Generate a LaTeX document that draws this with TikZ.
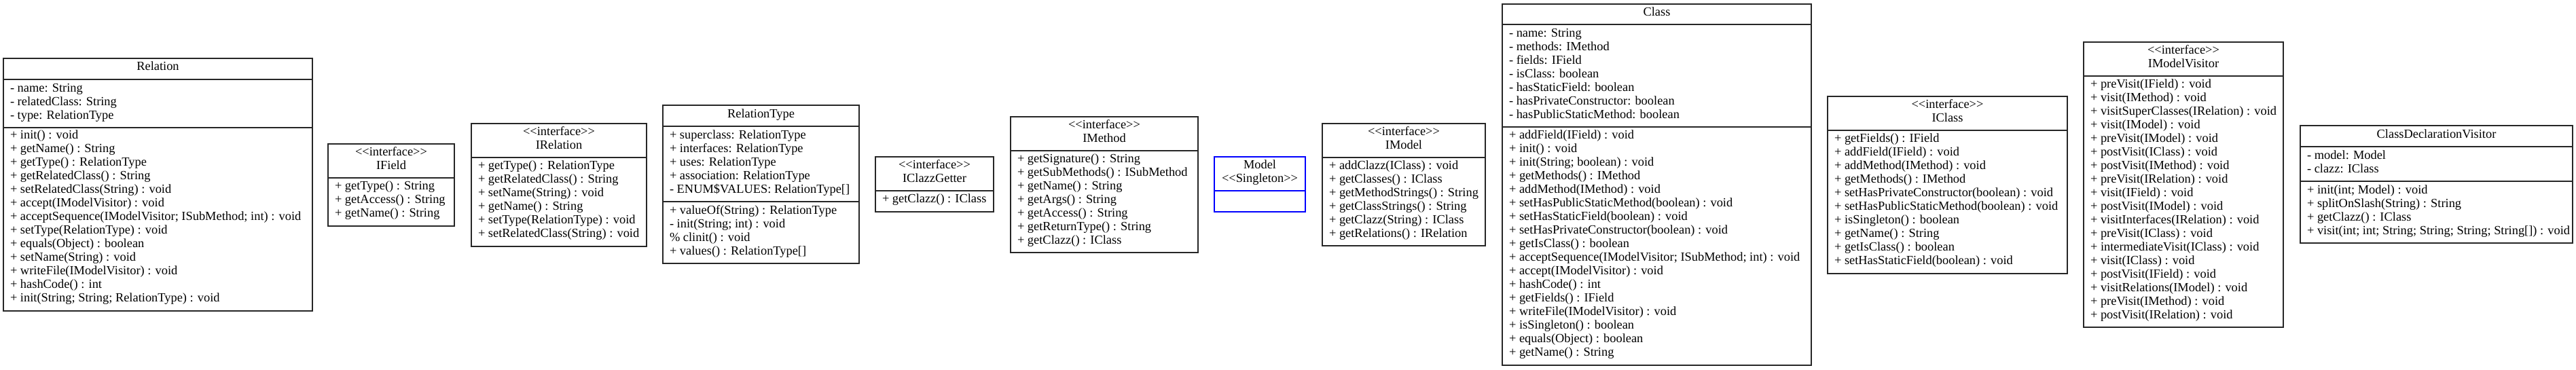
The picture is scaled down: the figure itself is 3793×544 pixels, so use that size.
\documentclass[tikz,border=0pt]{standalone}
\usepackage{fontspec}
\newfontfamily\umlfont{Liberation Serif}
\tikzset{
  uboxst/.style={draw=black!85, line width=1.3pt, inner sep=0pt, outer sep=0pt, anchor=north west},
  usepst/.style={draw=black!85, line width=1.3pt},
  utxt/.style={inner sep=0pt, outer sep=0pt, font=\umlfont\fontsize{18.4}{20}\selectfont, text=black},
}
\newcommand\ubox[6][]{\node[uboxst,#1, minimum width={(#5-#3)*1pt}, minimum height={(#6-#4)*1pt}] (#2) at (#3,#4) {};}
\newcommand\usep[3][]{\draw[usepst,#1] (#2.west |- 0,#3) -- (#2.east |- 0,#3);}
\newcommand\ulines[4]{\foreach \t [count=\i] in {#4} {\node[utxt, anchor=mid west] (#1-\i) at (#2,{#3+20*(\i-1)}) {\t};}}
\newcommand\uhead[4]{\foreach \t [count=\i] in {#4} {\node[utxt, anchor=mid] (#1-\i) at (#2,{#3+20*(\i-1)}) {\t};}}
\begin{document}
\begin{tikzpicture}[x=1pt,y=-1pt]
\useasboundingbox[fill=white] (0,0) rectangle (3793,544);

% Relation
\ubox{rel}{5}{86}{460}{458}
\usep{rel}{117}\usep{rel}{188}
\uhead{relh}{232.5}{101}{Relation}
\ulines{rela}{15}{133}{- name: String, - relatedClass: String, - type: RelationType}
\ulines{relm}{15}{202}{+ init() : void, + getName() : String, + getType() : RelationType, + getRelatedClass() : String, + setRelatedClass(String) : void, + accept(IModelVisitor) : void, + acceptSequence(IModelVisitor; ISubMethod; int) : void, + setType(RelationType) : void, + equals(Object) : boolean, + setName(String) : void, + writeFile(IModelVisitor) : void, + hashCode() : int, + init(String; String; RelationType) : void}

% IField
\ubox{ifield}{483}{212}{669}{333}
\usep{ifield}{262}
\uhead{ifieldh}{576}{227}{<<interface>>, IField}
\ulines{ifieldm}{493}{277}{+ getType() : String, + getAccess() : String, + getName() : String}

% IRelation
\ubox{irel}{694}{182}{952}{363}
\usep{irel}{232}
\uhead{irelh}{823}{197}{<<interface>>, IRelation}
\ulines{irelm}{704}{247}{+ getType() : RelationType, + getRelatedClass() : String, + setName(String) : void, + getName() : String, + setType(RelationType) : void, + setRelatedClass(String) : void}

% RelationType
\ubox{rtype}{976}{155}{1265}{388}
\usep{rtype}{186}\usep{rtype}{297}
\uhead{rtypeh}{1120.5}{171}{RelationType}
\ulines{rtypea}{986}{202}{+ superclass: RelationType, + interfaces: RelationType, + uses: RelationType, + association: RelationType, {- ENUM\$VALUES: RelationType[]}}
\ulines{rtypem}{986}{313}{+ valueOf(String) : RelationType, - init(String; int) : void, \% clinit() : void, {+ values() : RelationType[]}}

% IClazzGetter
\ubox{iclazz}{1289}{231}{1463}{312}
\usep{iclazz}{281}
\uhead{iclazzh}{1376}{246}{<<interface>>, IClazzGetter}
\ulines{iclazzm}{1299}{296}{+ getClazz() : IClass}

% IMethod
\ubox{imethod}{1488}{172}{1764}{372}
\usep{imethod}{222}
\uhead{imethodh}{1626}{187}{<<interface>>, IMethod}
\ulines{imethodm}{1498}{237}{+ getSignature() : String, + getSubMethods() : ISubMethod, + getName() : String, + getArgs() : String, + getAccess() : String, + getReturnType() : String, + getClazz() : IClass}

% Model
\ubox[draw=blue]{model}{1788}{231}{1922}{312}
\usep[draw=blue]{model}{281}
\uhead{modelh}{1855}{246}{Model, <<Singleton>>}

% IModel
\ubox{imodel}{1947}{182}{2187}{362}
\usep{imodel}{232}
\uhead{imodelh}{2067}{197}{<<interface>>, IModel}
\ulines{imodelm}{1957}{247}{+ addClazz(IClass) : void, + getClasses() : IClass, + getMethodStrings() : String, + getClassStrings() : String, + getClazz(String) : IClass, + getRelations() : IRelation}

% Class
\ubox{cls}{2212}{6}{2667}{538}
\usep{cls}{36}\usep{cls}{187}
\uhead{clsh}{2439.5}{21}{Class}
\ulines{clsa}{2222}{52}{- name: String, - methods: IMethod, - fields: IField, - isClass: boolean, - hasStaticField: boolean, - hasPrivateConstructor: boolean, - hasPublicStaticMethod: boolean}
\ulines{clsm}{2222}{202}{+ addField(IField) : void, + init() : void, + init(String; boolean) : void, + getMethods() : IMethod, + addMethod(IMethod) : void, + setHasPublicStaticMethod(boolean) : void, + setHasStaticField(boolean) : void, + setHasPrivateConstructor(boolean) : void, + getIsClass() : boolean, + acceptSequence(IModelVisitor; ISubMethod; int) : void, + accept(IModelVisitor) : void, + hashCode() : int, + getFields() : IField, + writeFile(IModelVisitor) : void, + isSingleton() : boolean, + equals(Object) : boolean, + getName() : String}

% IClass
\ubox{iclass}{2691}{142}{3044}{403}
\usep{iclass}{192}
\uhead{iclassh}{2867.5}{157}{<<interface>>, IClass}
\ulines{iclassm}{2701}{207}{+ getFields() : IField, + addField(IField) : void, + addMethod(IMethod) : void, + getMethods() : IMethod, + setHasPrivateConstructor(boolean) : void, + setHasPublicStaticMethod(boolean) : void, + isSingleton() : boolean, + getName() : String, + getIsClass() : boolean, + setHasStaticField(boolean) : void}

% IModelVisitor
\ubox{imv}{3068}{62}{3362}{482}
\usep{imv}{112}
\uhead{imvh}{3215}{77}{<<interface>>, IModelVisitor}
\ulines{imvm}{3078}{127}{+ preVisit(IField) : void, + visit(IMethod) : void, + visitSuperClasses(IRelation) : void, + visit(IModel) : void, + preVisit(IModel) : void, + postVisit(IClass) : void, + postVisit(IMethod) : void, + preVisit(IRelation) : void, + visit(IField) : void, + postVisit(IModel) : void, + visitInterfaces(IRelation) : void, + preVisit(IClass) : void, + intermediateVisit(IClass) : void, + visit(IClass) : void, + postVisit(IField) : void, + visitRelations(IModel) : void, + preVisit(IMethod) : void, + postVisit(IRelation) : void}

% ClassDeclarationVisitor
\ubox{cdv}{3387}{185}{3788}{358}
\usep{cdv}{216}\usep{cdv}{267}
\uhead{cdvh}{3587.5}{201}{ClassDeclarationVisitor}
\ulines{cdva}{3397}{232}{- model: Model, - clazz: IClass}
\ulines{cdvm}{3397}{283}{+ init(int; Model) : void, + splitOnSlash(String) : String, + getClazz() : IClass, {+ visit(int; int; String; String; String; String[]) : void}}
\end{tikzpicture}
\end{document}
